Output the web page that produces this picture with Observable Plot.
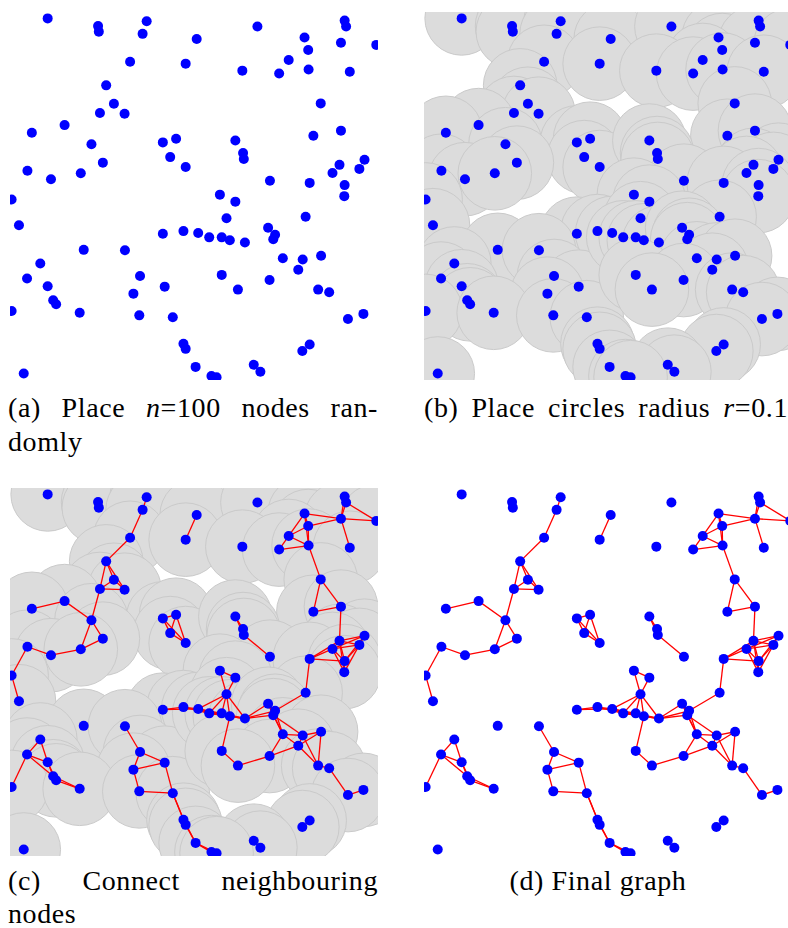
<!DOCTYPE html>
<html><head><meta charset="utf-8">
<script src="https://cdn.jsdelivr.net/npm/d3@7"></script>
<script src="https://cdn.jsdelivr.net/npm/@observablehq/plot@0.6"></script>
<style>
html,body{margin:0;padding:0;background:#fff;overflow:hidden;width:788px;height:928px;}
.panel{position:absolute;width:368px;height:368px;overflow:hidden;}
.panel svg{display:block;}
.cap{position:absolute;font-family:"Liberation Serif",serif;font-size:28px;line-height:34px;letter-spacing:0.6px;color:#000;white-space:nowrap;}
.just{text-align:justify;text-align-last:justify;}
</style></head><body>
<div id="pa" class="panel" style="left:10px;top:12px"></div>
<div id="pb" class="panel" style="left:424px;top:12px"></div>
<div id="pc" class="panel" style="left:10px;top:488px"></div>
<div id="pd" class="panel" style="left:424px;top:488px"></div>
<div class="cap just" style="left:8px;top:391px;width:370px">(a) Place <i>n</i>=100 nodes ran-</div>
<div class="cap" style="left:8px;top:425px">domly</div>
<div class="cap just" style="left:424px;top:391px;width:364px">(b) Place circles radius <i>r</i>=0.1</div>
<div class="cap just" style="left:8px;top:864px;width:370px">(c) Connect neighbouring</div>
<div class="cap" style="left:8px;top:900px;line-height:28px">nodes</div>
<div class="cap" style="left:414px;top:864px;width:368px;text-align:center">(d) Final graph</div>
<script>
// node positions in the unit square (x right, y down)
const nodeX = [0.101,0.238,0.240,0.370,0.359,0.506,0.325,0.476,0.260,0.281,
  0.243,0.310,0.147,0.058,0.220,0.414,0.450,0.434,0.476,0.251,
  0.046,0.110,0.191,0.003,0.671,0.908,0.912,0.799,0.809,0.898,
  0.994,0.756,0.630,0.730,0.810,0.922,0.843,0.611,0.823,0.898,
  0.632,0.634,0.962,0.894,0.948,0.875,0.705,0.813,0.908,0.569,
  0.611,0.907,0.023,0.414,0.470,0.510,0.199,0.311,0.081,0.045,
  0.101,0.352,0.419,0.334,0.116,0.124,0.003,0.188,0.350,0.441,
  0.470,0.476,0.503,0.036,0.587,0.802,0.540,0.574,0.596,0.637,
  0.700,0.719,0.714,0.740,0.794,0.844,0.782,0.574,0.704,0.618,
  0.836,0.866,0.959,0.917,0.813,0.793,0.661,0.679,0.546,0.560];
const nodeY = [0.016,0.037,0.052,0.024,0.058,0.072,0.134,0.139,0.198,0.248,
  0.273,0.275,0.306,0.327,0.358,0.353,0.343,0.393,0.420,0.408,
  0.430,0.453,0.437,0.508,0.038,0.022,0.038,0.068,0.102,0.082,
  0.088,0.129,0.158,0.166,0.155,0.161,0.247,0.348,0.335,0.321,
  0.382,0.398,0.400,0.414,0.425,0.436,0.457,0.463,0.469,0.495,
  0.514,0.499,0.578,0.601,0.594,0.599,0.645,0.646,0.682,0.723,
  0.744,0.716,0.745,0.764,0.782,0.793,0.811,0.816,0.823,0.828,
  0.900,0.914,0.963,0.981,0.559,0.555,0.611,0.611,0.619,0.625,
  0.585,0.604,0.616,0.668,0.671,0.661,0.699,0.713,0.727,0.753,
  0.753,0.760,0.819,0.833,0.902,0.920,0.957,0.976,0.988,0.991];
const radius = 0.1;      // r
const panelSize = 368;

const nodes = nodeX.map((x, i) => ({x, y: nodeY[i]}));
const edges = [];
for (let i = 0; i < nodes.length; i++)
  for (let j = i + 1; j < nodes.length; j++) {
    const a = nodes[i], b = nodes[j];
    if (Math.hypot(a.x - b.x, a.y - b.y) < radius)
      edges.push({x1: a.x, y1: a.y, x2: b.x, y2: b.y});
  }

function panel(showCircles, showEdges) {
  const marks = [];
  if (showCircles) marks.push(Plot.dot(nodes, {x: "x", y: "y", r: radius * panelSize, fill: "#dcdcdc", stroke: "#cacaca", strokeWidth: 1, clip: true}));
  if (showEdges) marks.push(Plot.link(edges, {x1: "x1", y1: "y1", x2: "x2", y2: "y2", stroke: "#ff0000", strokeWidth: 1.3, clip: true}));
  marks.push(Plot.dot(nodes, {x: "x", y: "y", r: 5, fill: "#0000ff", clip: true}));
  return Plot.plot({
    width: panelSize, height: panelSize, margin: 0,
    x: {domain: [0, 1], axis: null},
    y: {domain: [0, 1], reverse: true, axis: null},
    marks
  });
}
document.getElementById("pa").append(panel(false, false));
document.getElementById("pb").append(panel(true, false));
document.getElementById("pc").append(panel(true, true));
document.getElementById("pd").append(panel(false, true));
</script>
</body></html>
